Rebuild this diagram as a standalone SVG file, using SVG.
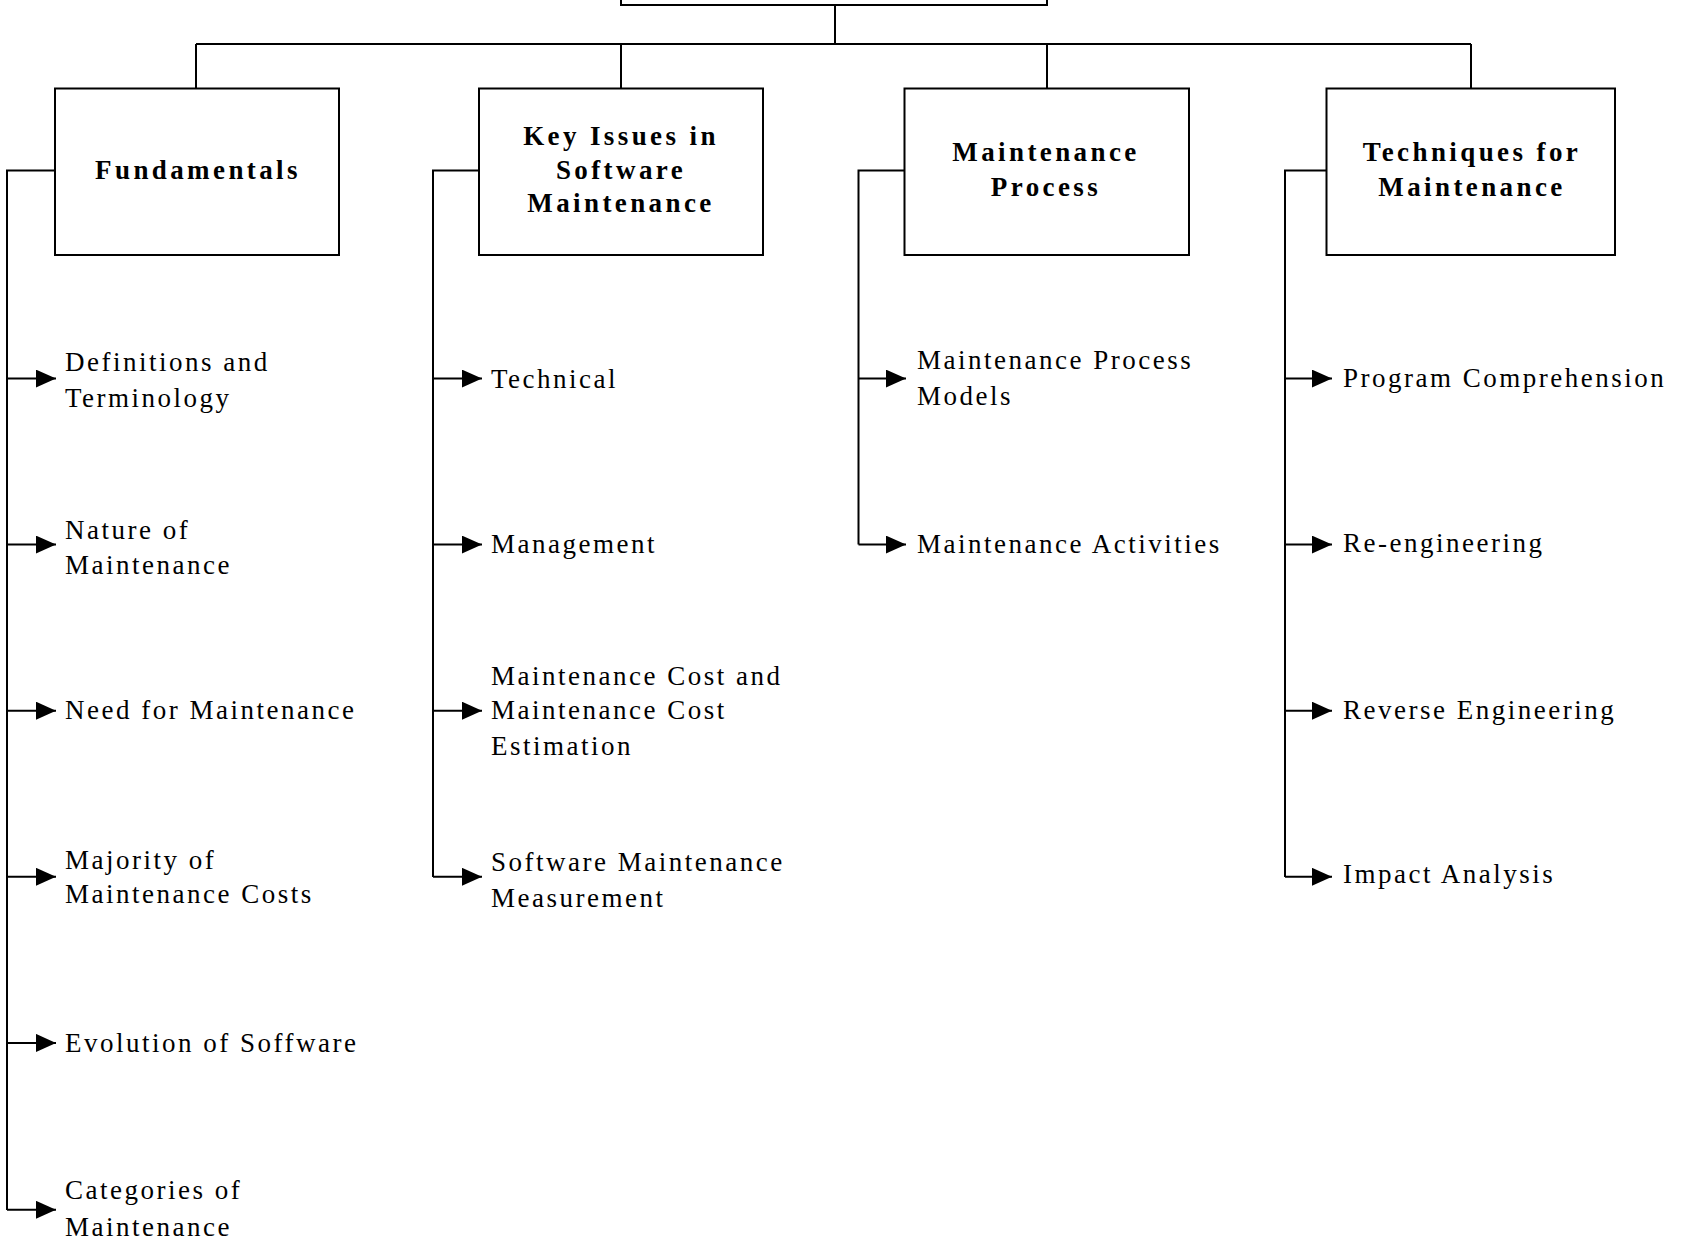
<svg xmlns="http://www.w3.org/2000/svg" width="1691" height="1247" viewBox="0 0 1691 1247">
<style>
.box{fill:#fff;stroke:#000;stroke-width:2}
.ln{fill:none;stroke:#000;stroke-width:2}
.h{font-family:"Liberation Serif","Times New Roman",serif;font-weight:bold;font-size:27px;letter-spacing:3.4px;text-anchor:middle;fill:#000}
.t{font-family:"Liberation Serif","Times New Roman",serif;font-size:27px;letter-spacing:2.5px;fill:#000}
</style>
<defs>
<marker id="ah" markerUnits="userSpaceOnUse" markerWidth="22" markerHeight="20" refX="20" refY="9" orient="auto">
<path d="M0,0 L20,9 L0,18 Z" fill="#000"/>
</marker>
</defs>
<rect width="1691" height="1247" fill="#fff"/>
<g id="connectors">
<path class="ln" d="M835,5 V44 M196,44 H1471 M196,44 V89 M621,44 V89 M1047,44 V89 M1471,44 V89"/>
<path class="ln" d="M55,170.5 H7 V1210 M479,170.5 H433 V877 M904.5,170.5 H858.5 V544.6 M1326.5,170.5 H1285 V877"/>
<g class="ln" marker-end="url(#ah)">
<path d="M7,378.6 H56"/>
<path d="M7,544.6 H56"/>
<path d="M7,710.7 H56"/>
<path d="M7,876.8 H56"/>
<path d="M7,1042.9 H56"/>
<path d="M7,1209.8 H56"/>
<path d="M433,378.6 H482"/>
<path d="M433,544.6 H482"/>
<path d="M433,710.7 H482"/>
<path d="M433,876.8 H482"/>
<path d="M858.5,378.6 H906"/>
<path d="M858.5,544.6 H906"/>
<path d="M1285,378.6 H1332"/>
<path d="M1285,544.6 H1332"/>
<path d="M1285,710.7 H1332"/>
<path d="M1285,876.8 H1332"/>
</g>
</g>
<g id="root"><rect class="box" x="621" y="-40" width="426" height="45"/></g>
<g id="fundamentals"><rect class="box" x="55" y="88.5" width="284" height="166.5"/><text class="h" x="198" y="178.5">Fundamentals</text></g>
<g id="key-issues"><rect class="box" x="479" y="88.5" width="284" height="166.5"/><text class="h" x="621" y="144.5">Key Issues in</text><text class="h" x="621" y="178.5">Software</text><text class="h" x="621" y="212">Maintenance</text></g>
<g id="maintenance-process"><rect class="box" x="904.5" y="88.5" width="284.5" height="166.5"/><text class="h" x="1046" y="160.5">Maintenance</text><text class="h" x="1046" y="195.5">Process</text></g>
<g id="techniques"><rect class="box" x="1326.5" y="88.5" width="288.5" height="166.5"/><text class="h" x="1472" y="160.5">Techniques for</text><text class="h" x="1472" y="195.5">Maintenance</text></g>
<g id="definitions"><text class="t" x="65" y="370.5">Definitions and</text><text class="t" x="65" y="406.5">Terminology</text></g>
<g id="nature"><text class="t" x="65" y="538.5">Nature of</text><text class="t" x="65" y="573.5">Maintenance</text></g>
<g id="need"><text class="t" x="65" y="719">Need for Maintenance</text></g>
<g id="majority"><text class="t" x="65" y="869">Majority of</text><text class="t" x="65" y="903">Maintenance Costs</text></g>
<g id="evolution"><text class="t" x="65" y="1052">Evolution of Soffware</text></g>
<g id="categories"><text class="t" x="65" y="1199">Categories of</text><text class="t" x="65" y="1235.5">Maintenance</text></g>
<g id="technical"><text class="t" x="491" y="387.5">Technical</text></g>
<g id="management"><text class="t" x="491" y="552.5">Management</text></g>
<g id="cost"><text class="t" x="491" y="684.5">Maintenance Cost and</text><text class="t" x="491" y="719">Maintenance Cost</text><text class="t" x="491" y="754.5">Estimation</text></g>
<g id="measurement"><text class="t" x="491" y="871">Software Maintenance</text><text class="t" x="491" y="906.5">Measurement</text></g>
<g id="process-models"><text class="t" x="917" y="368.5">Maintenance Process</text><text class="t" x="917" y="404.5">Models</text></g>
<g id="activities"><text class="t" x="917" y="552.5">Maintenance Activities</text></g>
<g id="comprehension"><text class="t" x="1343" y="386.5">Program Comprehension</text></g>
<g id="reengineering"><text class="t" x="1343" y="552">Re-engineering</text></g>
<g id="reverse"><text class="t" x="1343" y="719">Reverse Engineering</text></g>
<g id="impact"><text class="t" x="1343" y="882.5">Impact Analysis</text></g>
</svg>
